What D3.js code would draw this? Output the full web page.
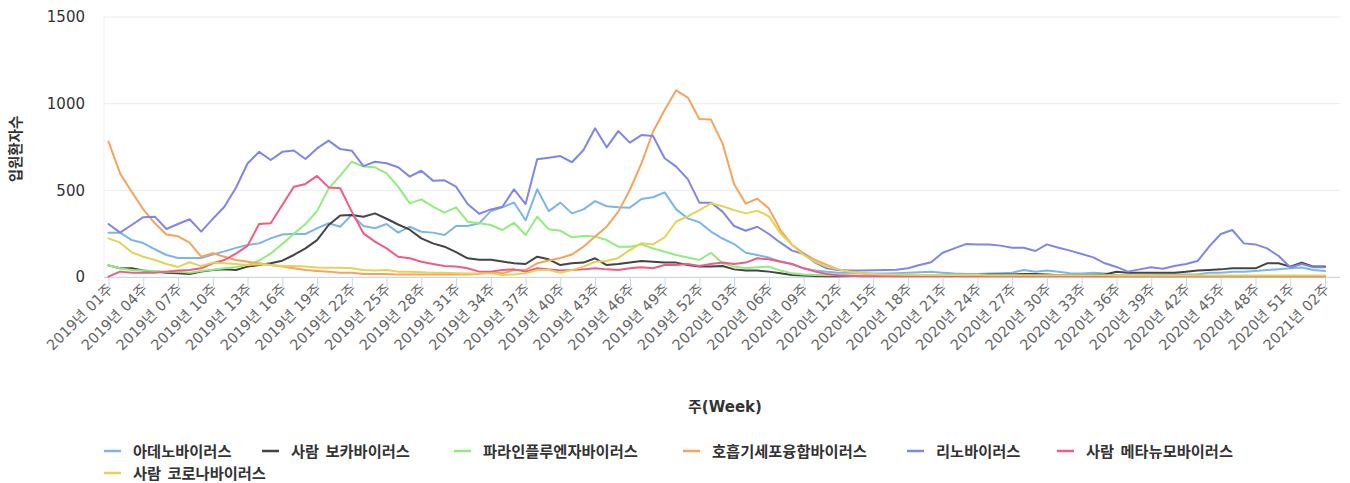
<!DOCTYPE html>
<html lang="ko">
<head>
<meta charset="utf-8">
<script src="https://cdn.jsdelivr.net/npm/d3@7"></script>
<style>
  html, body { margin: 0; padding: 0; background: #fff; }
  svg { display: block; }
  text { font-family: "DejaVu Sans", "Noto Sans CJK KR", sans-serif; }
</style>
</head>
<body>
<svg id="chart" width="1350" height="483"></svg>
<script>
// Weekly hospitalised respiratory-virus patients, 2019 W01 – 2021 W02
const weeksPerYear = [[2019, 52], [2020, 52], [2021, 2]];
const categories = [];
weeksPerYear.forEach(([yr, n]) => {
  for (let w = 1; w <= n; w++) categories.push(`${yr}년 ${String(w).padStart(2, "0")}주`);
});

const tickLabels = [
  "2019년 01주", "2019년 04주", "2019년 07주", "2019년 10주", "2019년 13주", "2019년 16주",
  "2019년 19주", "2019년 22주", "2019년 25주", "2019년 28주", "2019년 31주", "2019년 34주",
  "2019년 37주", "2019년 40주", "2019년 43주", "2019년 46주", "2019년 49주", "2019년 52주",
  "2020년 03주", "2020년 06주", "2020년 09주", "2020년 12주", "2020년 15주", "2020년 18주",
  "2020년 21주", "2020년 24주", "2020년 27주", "2020년 30주", "2020년 33주", "2020년 36주",
  "2020년 39주", "2020년 42주", "2020년 45주", "2020년 48주", "2020년 51주", "2021년 02주"
];

const yTicks = [0, 500, 1000, 1500];

const adeno = [
  256, 256, 213, 196, 160, 127, 110, 110, 110, 130,
  148, 168, 185, 194, 223, 245, 250, 248, 281, 310,
  290, 360, 294, 281, 306, 256, 290, 261, 256, 242,
  294, 294, 310, 380, 402, 430, 327, 506, 380, 429,
  367, 390, 438, 408, 402, 400, 450, 460, 488, 390,
  338, 316, 262, 222, 190, 140, 127, 112, 90, 75,
  50, 37, 30, 25, 25, 22, 20, 20, 22, 25,
  28, 30, 25, 20, 18, 18, 20, 22, 25, 40,
  30, 38, 30, 22, 20, 25, 20, 12, 10, 10,
  10, 12, 15, 15, 15, 25, 25, 30, 30, 35,
  40, 45, 50, 55, 40, 35
];

const boca = [
  67, 50, 50, 37, 31, 25, 21, 17, 31, 40,
  44, 40, 60, 69, 79, 94, 127, 165, 213, 300,
  355, 358, 348, 367, 336, 303, 273, 223, 194, 175,
  143, 108, 100, 100, 90, 79, 75, 117, 102, 69,
  79, 83, 108, 69, 75, 83, 92, 88, 83, 83,
  69, 60, 60, 63, 44, 37, 37, 31, 21, 12,
  8, 6, 5, 5, 6, 6, 7, 7, 8, 8,
  8, 8, 9, 10, 12, 12, 15, 15, 15, 18,
  18, 15, 10, 10, 10, 12, 15, 30, 25, 25,
  25, 25, 25, 30, 37, 40, 44, 50, 50, 50,
  79, 79, 60, 83, 60, 60
];

const parainfluenza = [
  67, 50, 40, 37, 35, 31, 31, 25, 35, 42,
  50, 58, 70, 95, 135, 190, 250, 305, 380, 510,
  585, 665, 637, 633, 598, 521, 425, 448, 406, 371,
  402, 319, 310, 300, 271, 313, 242, 348, 275, 267,
  229, 237, 233, 213, 175, 175, 188, 165, 146, 127,
  113, 98, 140, 79, 60, 50, 56, 60, 37, 21,
  15, 12, 10, 10, 8, 8, 8, 7, 7, 7,
  6, 6, 6, 6, 6, 6, 6, 6, 6, 6,
  6, 6, 6, 6, 6, 6, 5, 5, 5, 5,
  5, 5, 5, 5, 5, 5, 5, 5, 5, 5,
  5, 5, 5, 5, 5, 5
];

const rsv = [
  781, 598, 492, 390, 310, 245, 235, 198, 117, 137,
  117, 98, 88, 79, 69, 60, 50, 40, 35, 31,
  25, 25, 17, 17, 17, 15, 15, 15, 15, 15,
  15, 15, 18, 28, 21, 40, 40, 79, 95, 110,
  130, 175, 233, 290, 377, 502, 656, 838, 963, 1077,
  1035, 912, 908, 771, 535, 423, 452, 396, 271, 185,
  137, 98, 69, 44, 31, 21, 15, 12, 10, 10,
  9, 9, 8, 8, 8, 7, 7, 7, 7, 6,
  6, 6, 6, 6, 5, 5, 5, 5, 5, 5,
  5, 5, 5, 5, 5, 5, 5, 5, 5, 5,
  5, 5, 5, 5, 5, 5
];

const rhino = [
  306, 256, 300, 345, 348, 277, 306, 333, 262, 335,
  405, 515, 655, 722, 675, 722, 730, 681, 742, 787,
  738, 729, 640, 665, 656, 633, 579, 613, 556, 558,
  521, 421, 365, 390, 405, 506, 421, 679, 688, 698,
  662, 733, 858, 748, 842, 775, 819, 813, 685, 637,
  565, 429, 429, 377, 294, 267, 290, 248, 198, 152,
  133, 83, 50, 40, 38, 38, 39, 40, 42, 50,
  69, 85, 140, 165, 190, 188, 187, 181, 169, 169,
  150, 188, 169, 152, 133, 113, 79, 58, 31, 44,
  56, 48, 63, 75, 92, 175, 248, 271, 194, 188,
  165, 121, 56, 75, 56, 56
];

const metapneumo = [
  2, 31, 25, 25, 25, 31, 37, 40, 50, 79,
  98, 135, 180, 306, 310, 415, 521, 537, 583, 517,
  512, 377, 252, 204, 165, 117, 108, 88, 75, 63,
  60, 50, 31, 31, 40, 44, 31, 50, 44, 37,
  40, 44, 50, 44, 40, 50, 56, 50, 69, 69,
  75, 63, 75, 83, 75, 83, 108, 102, 88, 75,
  50, 31, 17, 10, 7, 5, 5, 5, 5, 5,
  5, 5, 5, 5, 5, 5, 5, 5, 5, 5,
  5, 5, 5, 5, 5, 5, 5, 5, 5, 5,
  5, 5, 5, 5, 5, 5, 5, 5, 5, 5,
  5, 5, 5, 5, 5, 5
];

const corona = [
  223, 198, 143, 117, 98, 75, 58, 85, 63, 83,
  79, 75, 69, 73, 69, 63, 63, 60, 55, 54,
  54, 50, 40, 37, 40, 31, 31, 28, 25, 25,
  22, 20, 20, 21, 12, 15, 21, 40, 40, 25,
  40, 60, 88, 92, 110, 155, 195, 188, 228, 320,
  350, 386, 425, 408, 386, 367, 383, 350, 252, 185,
  127, 88, 60, 44, 30, 22, 18, 15, 14, 13,
  12, 12, 12, 11, 11, 11, 10, 10, 10, 10,
  10, 10, 10, 10, 10, 10, 10, 9, 9, 9,
  9, 9, 9, 9, 8, 8, 8, 8, 8, 8,
  8, 8, 8, 8, 8, 8
];

const seriesNames = [
  "아데노바이러스", "사람 보카바이러스", "파라인플루엔자바이러스",
  "호흡기세포융합바이러스", "리노바이러스", "사람 메타뉴모바이러스", "사람 코로나바이러스"
];
const seriesValues = [adeno, boca, parainfluenza, rsv, rhino, metapneumo, corona];
const seriesColors = ["#7cb5ec", "#434348", "#90ed7d", "#f7a35c", "#8085e9", "#f15c80", "#e4d354"];

// ---- layout ----
const plot = { left: 104, right: 1340, top: 17, bottom: 277 };
const svg = d3.select("#chart");

const x = d3.scalePoint().domain(categories).range([108.5, 1325]);
const y = d3.scaleLinear().domain([0, 1500]).range([plot.bottom, plot.top]);

// horizontal grid
svg.append("g")
  .selectAll("line")
  .data(yTicks)
  .join("line")
  .attr("x1", plot.left).attr("x2", plot.right)
  .attr("y1", d => y(d)).attr("y2", d => y(d))
  .attr("stroke", "#ececec").attr("stroke-width", 1);

// faint left border of the plot
svg.append("line")
  .attr("x1", plot.left).attr("x2", plot.left)
  .attr("y1", plot.top).attr("y2", plot.bottom)
  .attr("stroke", "#f0f0f0");

// y axis labels
const yAxis = svg.append("g")
  .attr("transform", `translate(${plot.left},0)`)
  .call(d3.axisLeft(y).tickValues(yTicks).tickSize(0).tickPadding(19).tickFormat(d3.format("d")));
yAxis.select(".domain").remove();
yAxis.selectAll("text")
  .attr("fill", "#333")
  .style("font-size", "15px");

// y axis title
svg.append("text")
  .attr("transform", `translate(21,149) rotate(-90)`)
  .attr("text-anchor", "middle")
  .attr("fill", "#333")
  .style("font-size", "14.5px")
  .style("font-weight", "bold")
  .text("입원환자수");

// x axis
const tickSet = new Set(tickLabels);
const xAxis = svg.append("g")
  .attr("transform", `translate(0,${plot.bottom})`)
  .call(d3.axisBottom(x).tickValues(categories.filter(c => tickSet.has(c))).tickSize(10));
xAxis.select(".domain").remove();
xAxis.selectAll(".tick line").attr("stroke", "#ccd6eb");
xAxis.selectAll(".tick text")
  .attr("text-anchor", "end")
  .attr("fill", "#666")
  .attr("dy", null)
  .attr("y", null)
  .attr("transform", "translate(5,13) rotate(-45)")
  .style("font-size", "14.5px");

svg.append("line")
  .attr("x1", plot.left).attr("x2", plot.right)
  .attr("y1", plot.bottom + 0.5).attr("y2", plot.bottom + 0.5)
  .attr("stroke", "#ccd6eb");

// x axis title
svg.append("text")
  .attr("x", 725).attr("y", 412)
  .attr("text-anchor", "middle")
  .attr("fill", "#333")
  .style("font-size", "15px")
  .style("font-weight", "bold")
  .text("주(Week)");

// series lines
const line = d3.line()
  .x((d, i) => x(categories[i]))
  .y(d => y(d));

svg.append("g")
  .attr("fill", "none")
  .attr("stroke-width", 2)
  .attr("stroke-linejoin", "round")
  .attr("stroke-linecap", "round")
  .selectAll("path")
  .data(seriesValues)
  .join("path")
  .attr("stroke", (d, i) => seriesColors[i])
  .attr("d", line);

// legend
const legendPos = [
  [133, 451], [291, 451], [483, 451], [712, 451], [936, 451], [1086, 451],
  [133, 473]
];
const legend = svg.append("g")
  .selectAll("g")
  .data(seriesNames)
  .join("g")
  .attr("transform", (d, i) => `translate(${legendPos[i][0]},${legendPos[i][1]})`);
legend.append("line")
  .attr("x1", -29).attr("x2", -12)
  .attr("y1", 0).attr("y2", 0)
  .attr("stroke", (d, i) => seriesColors[i])
  .attr("stroke-width", 2.5);
legend.append("text")
  .attr("x", 0).attr("y", 0)
  .attr("dy", "0.36em")
  .attr("fill", "#333")
  .style("font-family", "'Noto Sans CJK KR', sans-serif")
  .style("font-size", "15.3px")
  .style("font-weight", "bold")
  .style("word-spacing", "2px")
  .text(d => d);
</script>
</body>
</html>
